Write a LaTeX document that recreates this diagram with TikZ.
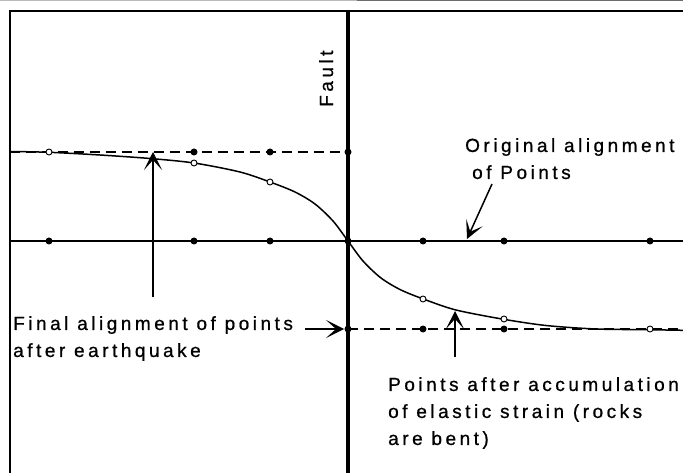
\documentclass[tikz,border=0pt]{standalone}
\usepackage{fontspec}
\setmainfont{Liberation Sans}
\newfontfamily\notefont[LetterSpace=18.5, FakeBold=0.8]{Liberation Sans}
\usetikzlibrary{arrows.meta}
\tikzset{
  solidpt/.style={circle, fill, inner sep=0pt, minimum size=7pt},
  openpt/.style={circle, draw, fill=white, inner sep=0pt, minimum size=6pt, line width=0.9pt},
  pfeil/.style={-{Stealth[length=18pt, width=18pt, inset=10pt]}, line width=1.5pt},
  guide/.style={line width=1.5pt, dash pattern=on 10pt off 6pt},
  note/.style={font={\notefont\fontsize{19pt}{27pt}\selectfont}, align=left, inner sep=0pt},
}

\begin{document}
\begin{tikzpicture}[x=1pt, y=-1pt]
    \useasboundingbox (0,0) rectangle (683,473);
    \draw[gray!55, line width=1pt] (0,0.5) -- (357,0.5);
    \draw[gray!85!black, line width=1pt] (357,0.5) -- (683,0.5);
    \draw[line width=1.8pt] (10,473) -- (10,11) -- (683,11);
    \draw[line width=1.5pt] (10,241) -- (683,241);
    \draw[guide] (10,152) -- (348,152);
    \draw[guide] (348,329) -- (683,329);
    \draw[line width=3.2pt] (348,11) -- (348,473);
    \draw[line width=1.5pt] plot[smooth] coordinates {(10,151.5) (49,152.3) (100,155) (150,158.5)
      (194,163) (240,172) (270,182) (295,192) (315,204) (333,221) (348,241) (363,261) (381,278)
      (401,290) (426,300) (456,310) (502,319) (546,325.5) (596,329) (647,329.7) (683,330.3)};
    \foreach \x [count=\i] in {49,194,270,348,423,504,650}
      \node[solidpt] (m\i) at (\x,241) {};
    \foreach \x [count=\i] in {194,270,348}
      \node[solidpt] (u\i) at (\x,152) {};
    \foreach \x [count=\i] in {348,423,504}
      \node[solidpt] (l\i) at (\x,329) {};
    \foreach \x/\y [count=\i] in {49/152,194/163,270/182,423/299,504/319,650/329}
      \node[openpt] (b\i) at (\x,\y) {};
    \node[note, rotate=90, anchor=base west] (fault) at (333,107) {Fault};
    \node[note, anchor=north west] (orig) at (465,138) {Original alignment\\\hspace*{7pt}of Points};
    \node[note, anchor=north west] (final) at (13,316) {Final alignment of points\\after earthquake};
    \node[note, anchor=north west] (strain) at (388,377) {Points after accumulation\\of elastic strain (rocks\\are bent)};
    \coordinate (a1) at (153,297);
    \coordinate (a1t) at (153,152);
    \coordinate (a2) at (492,184);
    \coordinate (a2t) at (467,239);
    \coordinate (a3) at (305,329);
    \coordinate (a3t) at (344,329);
    \coordinate (a4) at (455,357);
    \coordinate (a4t) at (455,311);
    \draw[pfeil] (a1) -- (a1t);
    \draw[pfeil] (a2) -- (a2t);
    \draw[pfeil] (a3) -- (a3t);
    \draw[pfeil] (a4) -- (a4t);
\end{tikzpicture}
\end{document}
